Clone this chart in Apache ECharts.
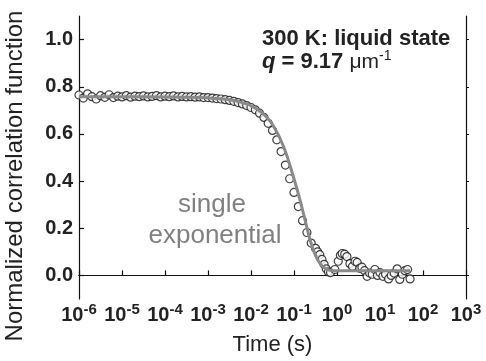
<!DOCTYPE html>
<html>
<head>
<meta charset="utf-8">
<script src="https://cdn.jsdelivr.net/npm/echarts@6/dist/echarts.min.js"></script>
<style>
html,body{margin:0;padding:0;background:#fff;}
#chart{width:486px;height:361px;}
</style>
</head>
<body>
<div id="chart"></div>
<script>
// Measured correlation data: lag time (s) and normalized correlation
var times = [
  1.00e-6, 1.26e-6, 1.58e-6, 2.00e-6, 2.51e-6, 3.16e-6, 3.98e-6, 5.01e-6, 6.31e-6, 7.94e-6,
  1.00e-5, 1.26e-5, 1.58e-5, 2.00e-5, 2.51e-5, 3.16e-5, 3.98e-5, 5.01e-5, 6.31e-5, 7.94e-5,
  1.00e-4, 1.26e-4, 1.58e-4, 2.00e-4, 2.51e-4, 3.16e-4, 3.98e-4, 5.01e-4, 6.31e-4, 7.94e-4,
  1.00e-3, 1.26e-3, 1.58e-3, 2.00e-3, 2.51e-3, 3.16e-3, 3.98e-3, 5.01e-3, 6.31e-3, 7.94e-3,
  1.00e-2, 1.26e-2, 1.58e-2, 2.00e-2, 2.51e-2, 3.16e-2, 3.98e-2, 5.01e-2, 6.31e-2, 7.94e-2,
  0.100, 0.126, 0.158, 0.200, 0.251, 0.316, 0.355, 0.398, 0.447, 0.501, 0.562, 0.631, 0.708,
  0.891, 1.07, 1.20, 1.32, 1.51, 1.70, 2.00, 2.29, 2.63, 2.95, 3.39, 3.80, 4.37, 5.01, 5.75,
  6.61, 7.59, 8.71, 10.0, 11.7, 13.5, 15.8, 18.2, 21.4, 25.1, 28.8, 33.1, 38.0, 43.7, 50.1
];
var corr = [
  0.765, 0.752, 0.770, 0.758, 0.748, 0.762, 0.755, 0.766, 0.754, 0.760,
  0.757, 0.762, 0.756, 0.760, 0.758, 0.761, 0.757, 0.759, 0.762, 0.757,
  0.760, 0.758, 0.761, 0.757, 0.759, 0.757, 0.758, 0.756, 0.757, 0.754,
  0.754, 0.752, 0.750, 0.748, 0.745, 0.742, 0.738, 0.733, 0.727, 0.720,
  0.712, 0.702, 0.688, 0.670, 0.645, 0.615, 0.575, 0.525, 0.468, 0.410,
  0.352, 0.292, 0.232, 0.182, 0.137, 0.115, 0.100, 0.088, 0.068, 0.047, 0.028, 0.015, 0.012,
  0.025, 0.060, 0.085, 0.093, 0.090, 0.080, 0.050, 0.038, 0.060, 0.055, 0.030, 0.035, 0.020, -0.004, 0.010,
  0.005, 0.025, 0.000, 0.012, -0.004, 0.005, -0.015, 0.000, 0.010, 0.028, -0.017, 0.005, 0.020, 0.025, -0.015
];
// Single exponential fit curve
var fitTimes = [1e-6, 1e-5, 1e-4, 3.16e-4, 1e-3, 3.16e-3, 5.62e-3, 1e-2, 1.78e-2, 3.16e-2, 5.62e-2,
  1e-1, 1.33e-1, 1.78e-1, 2.37e-1, 3.16e-1, 4.22e-1, 5.62e-1, 7.5e-1, 1.0, 50];
var fitCorr = [0.758, 0.758, 0.757, 0.756, 0.753, 0.745, 0.735, 0.720, 0.690, 0.640, 0.550,
  0.410, 0.330, 0.240, 0.150, 0.085, 0.045, 0.028, 0.021, 0.020, 0.020];
var xTicks = [1e-6, 1e-5, 1e-4, 1e-3, 1e-2, 1e-1, 1, 10, 100, 1000];
var yTicks = [0, 0.2, 0.4, 0.6, 0.8, 1.0];

var FONT = '"Liberation Sans", Arial, Helvetica, sans-serif';
var chart = echarts.init(document.getElementById('chart'), null, {renderer: 'canvas'});

var scatterData = times.map(function (t, i) { return [t, corr[i]]; });
var fitData = fitTimes.map(function (t, i) { return [t, fitCorr[i]]; });

var axisLine = {show: true, lineStyle: {color: '#111', width: 1.2}};

chart.setOption({
  animation: false,
  backgroundColor: '#fff',
  grid: {left: 79, right: 20, top: 16, bottom: 62},
  xAxis: [{
    type: 'log', logBase: 10, min: 1e-6, max: 1e3, position: 'bottom',
    axisLine: axisLine,
    axisTick: {show: true, inside: true, length: 5, customValues: xTicks, lineStyle: {color: '#111', width: 1.2}},
    splitLine: {show: false},
    minorTick: {show: false},
    axisLabel: {
      customValues: xTicks, margin: 3,
      formatter: function (v) {
        var e = Math.round(Math.log10(v));
        return '{b|10}{s|' + e + '}';
      },
      rich: {
        b: {fontFamily: FONT, fontSize: 20, fontWeight: 'bold', color: '#222', lineHeight: 23, verticalAlign: 'bottom'},
        s: {fontFamily: FONT, fontSize: 15, fontWeight: 'bold', color: '#222', lineHeight: 15, verticalAlign: 'top'}
      }
    },
    name: 'Time (s)', nameLocation: 'middle', nameGap: 35,
    nameTextStyle: {fontFamily: FONT, fontSize: 22, color: '#222'}
  }, {
    type: 'log', logBase: 10, min: 1e-6, max: 1e3, position: 'top',
    axisLine: axisLine, axisTick: {show: false}, axisLabel: {show: false}, splitLine: {show: false}
  }],
  yAxis: [{
    type: 'value', min: -0.1, max: 1.1, position: 'left',
    axisLine: axisLine,
    axisTick: {show: true, inside: true, length: 5, customValues: yTicks, lineStyle: {color: '#111', width: 1.2}},
    splitLine: {show: false},
    axisLabel: {
      customValues: yTicks, margin: 6,
      formatter: function (v) { return v.toFixed(1); },
      fontFamily: FONT, fontSize: 20, fontWeight: 'bold', color: '#222'
    }
  }, {
    type: 'value', min: -0.1, max: 1.1, position: 'right',
    axisLine: axisLine,
    axisTick: {show: true, inside: false, length: 3, customValues: yTicks, lineStyle: {color: '#111', width: 1}},
    splitLine: {show: false},
    axisLabel: {show: false}
  }],
  series: [{
    type: 'scatter', xAxisIndex: 0, yAxisIndex: 0,
    data: scatterData, symbol: 'circle', symbolSize: 8,
    itemStyle: {color: '#fff', borderColor: '#111', borderWidth: 1.2},
    z: 2
  }, {
    type: 'line', xAxisIndex: 0, yAxisIndex: 0,
    data: fitData, smooth: 0.4, showSymbol: false, symbol: 'none',
    lineStyle: {color: '#8a8a8a', width: 3},
    z: 3
  }],
  graphic: [{
    type: 'text', x: 15, y: 176, rotation: Math.PI / 2,
    style: {text: 'Normalized correlation function', font: '24px ' + FONT, fill: '#222', align: 'center', verticalAlign: 'middle'}
  }, {
    type: 'text', x: 262, y: 39,
    style: {text: '300 K: liquid state', font: 'bold 22px ' + FONT, fill: '#222', align: 'left', verticalAlign: 'middle'}
  }, {
    type: 'text', x: 262, y: 61,
    style: {
      text: '{qi|q}{b| = 9.17 }{r|\u03bcm}{s|-1}',
      align: 'left', verticalAlign: 'middle',
      rich: {
        qi: {fontFamily: FONT, fontSize: 22, fontWeight: 'bold', fontStyle: 'italic', fill: '#222', lineHeight: 24, verticalAlign: 'bottom'},
        b: {fontFamily: FONT, fontSize: 22, fontWeight: 'bold', fill: '#222', lineHeight: 24, verticalAlign: 'bottom'},
        r: {fontFamily: FONT, fontSize: 21, fill: '#222', lineHeight: 24, verticalAlign: 'bottom'},
        s: {fontFamily: FONT, fontSize: 14, fill: '#222', lineHeight: 14, verticalAlign: 'top'}
      }
    }
  }, {
    type: 'text', x: 212, y: 205,
    style: {text: 'single', font: '26px ' + FONT, fill: '#808080', align: 'center', verticalAlign: 'middle'}
  }, {
    type: 'text', x: 215, y: 236,
    style: {text: 'exponential', font: '26px ' + FONT, fill: '#808080', align: 'center', verticalAlign: 'middle'}
  }]
});
</script>
</body>
</html>
